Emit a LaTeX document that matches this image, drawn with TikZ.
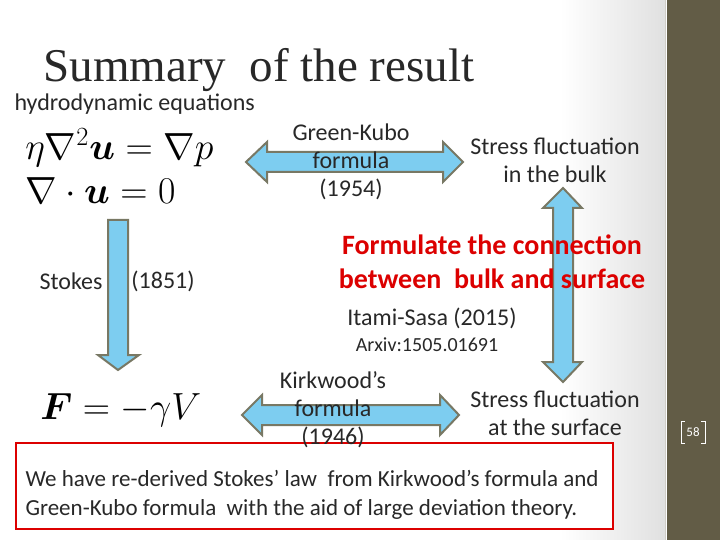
\documentclass[tikz,border=0pt]{standalone}
\usepackage{amsmath,bm}
\usepackage{fontspec}
\setmainfont{Carlito}
\newfontfamily\titlefont{Liberation Serif}
\definecolor{barc}{RGB}{98,92,70}
\definecolor{afill}{RGB}{125,205,240}
\definecolor{aline}{RGB}{120,120,100}
\definecolor{redt}{RGB}{220,0,0}
\definecolor{txt}{RGB}{40,40,40}
\tikzset{
 blk/.style={fill=afill,draw=aline,line width=2pt,line join=miter},
 lab/.style={text=txt,font=\fontsize{24}{28}\selectfont,align=center},
 eq/.style={anchor=west,font=\fontsize{25}{27}\selectfont,scale=1.52,inner sep=0pt},
}
\begin{document}
\begin{tikzpicture}[x=1pt,y=-1pt]
\useasboundingbox (0,0) rectangle (720,540);
\fill[white] (0,0) rectangle (720,540);
\shade[left color=white,right color=black!12] (560,0) rectangle (665,540);
\fill[barc] (667,0) rectangle (720,540);
\draw[white!70!barc,line width=0.8pt] (665,0) -- (665,540);
\node[text=white,font=\fontsize{13}{15}\selectfont] (pg) at (693,432) {58};
\draw[white,line width=1pt] (685,421) -- (681,421) -- (681,443) -- (685,443);
\draw[white,line width=1pt] (701,421) -- (705,421) -- (705,443) -- (701,443);
\node[anchor=west,text=txt,font=\titlefont\fontsize{47}{50}\selectfont] (title) at (40,70) {Summary\ \ of the result};
\node[anchor=west,lab] (hyd) at (11,104) {hydrodynamic equations};
\node[eq] (e1) at (25,148) {$\eta\nabla^2\bm{u}=\nabla p$};
\node[eq] (e2) at (25,191) {$\nabla\cdot\bm{u}=0$};
% Stokes arrow
\draw[blk] (108,220) -- (128,220) -- (128,355) -- (139,355) -- (118,370) -- (98,355) -- (108,355) -- cycle;
\node[lab] (st) at (71,281) {Stokes};
\node[lab] (yr) at (163,281) {(1851)};
\node[eq] (e3) at (40,410) {$\bm{F}=-\gamma V$};
% top horizontal double arrow
\draw[blk] (246,162) -- (267,142) -- (267,152) -- (443,152) -- (443,142) -- (463,162) -- (443,182) -- (443,172) -- (267,172) -- (267,182) -- cycle;
\node[lab] (gk) at (351,162) {Green-Kubo\\formula\\(1954)};
\node[lab] (sb) at (555,160) {Stress fluctuation\\in the bulk};
% vertical double arrow
\draw[blk] (563,188) -- (582,208) -- (573,208) -- (573,362) -- (582,362) -- (563,382) -- (543,362) -- (553,362) -- (553,208) -- (543,208) -- cycle;
% bottom horizontal double arrow
\draw[blk] (242,415) -- (262,395) -- (262,405) -- (440,405) -- (440,395) -- (459,415) -- (440,435) -- (440,425) -- (262,425) -- (262,435) -- cycle;
\node[draw=redt,line width=1.5pt,fill=white,minimum width=597pt,minimum height=86pt,anchor=north west,inner sep=0pt] (box) at (15,442) {};
\node[lab] (kw) at (333,410) {Kirkwood’s\\formula\\(1946)};
\node[lab] (ss) at (555,413) {Stress fluctuation\\at the surface};
\node[text=redt,font=\bfseries\fontsize{28}{34}\selectfont,align=center] (red) at (492,262) {Formulate the connection\\between\ \ bulk and surface};
\node[lab] (is) at (432,318) {Itami-Sasa (2015)};
\node[text=txt,font=\fontsize{20}{22}\selectfont] (ax) at (427,345) {Arxiv:1505.01691};
\node[anchor=west,text=txt,font=\fontsize{23}{29}\selectfont,align=left] (bt) at (22,495) {We have re-derived Stokes’ law\ \ from Kirkwood’s formula and\\Green-Kubo formula\ \ with the aid of large deviation theory.};
\end{tikzpicture}
\end{document}
